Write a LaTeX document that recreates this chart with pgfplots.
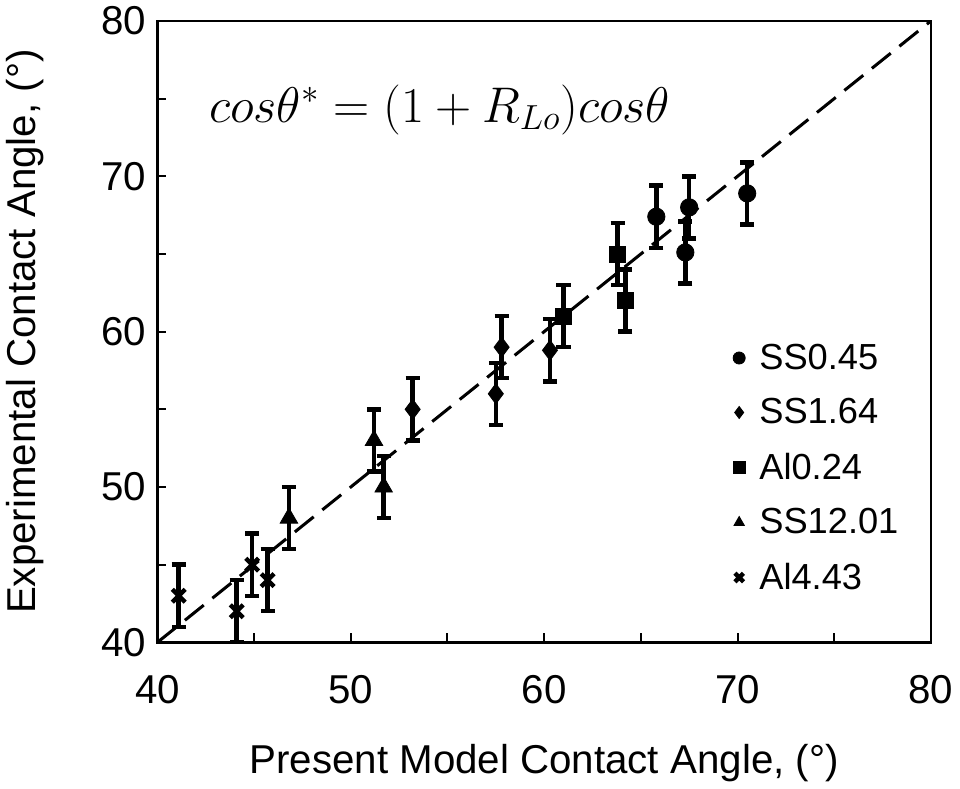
\documentclass[border=0pt]{standalone}
\usepackage{fontspec}
\setmainfont{Liberation Sans}
\usepackage{pgfplots}
\pgfplotsset{compat=1.18}

\begin{document}
\begin{tikzpicture}
\begin{axis}[
    scale only axis,
    width=384pt, height=308.5pt,
    xmin=40, xmax=80, ymin=40, ymax=80,
    xtick={40,50,...,80}, ytick={40,50,...,80},
    minor xtick={45,55,65,75}, minor ytick={45,55,65,75},
    tick align=inside,
    major tick length=4.5pt, minor tick length=4.5pt,
    tick style={black, line width=1pt},
    axis line style={line width=1.2pt},
    xtick pos=bottom, ytick pos=left,
    /pgf/number format/assume math mode=true,
    tick label style={font=\fontsize{20}{22}\selectfont},
    xticklabel style={yshift=-13pt},
    yticklabel style={xshift=-2pt},
    xlabel={Present Model Contact Angle, (°)},
    ylabel={Experimental Contact Angle, (°)},
    every axis x label/.style={at={(rel axis cs:0.5,-0.1945)}, anchor=center,
        font=\fontsize{20}{22}\selectfont},
    every axis y label/.style={at={(rel axis cs:-0.1706,0.5)}, anchor=center,
        rotate=90, font=\fontsize{20}{22}\selectfont},
    legend style={draw=none, fill=none, at={(0.736,0.494)}, anchor=north west,
        font=\fontsize{18}{20}\selectfont, row sep=9pt,
        legend cell align=left},
    legend image post style={mark size=3pt},
    cycle list={{black, mark options={fill=black, solid}}},
    error bars/y dir=both, error bars/y explicit,
    error bars/error bar style={line width=2.2pt, black},
    error bars/error mark options={rotate=90, line width=2.2pt, mark size=3.5pt, black},
]
\addplot[forget plot, mark=none, sharp plot, black, line width=1.5pt,
    dash pattern=on 12pt off 5.5pt] coordinates {(40,40) (80,80)};

% SS0.45
\addplot+[only marks, mark=*, mark size=4.3pt] coordinates {
    (65.8,67.4) +- (0,2)
    (67.5,68.0) +- (0,2)
    (67.3,65.1) +- (0,2)
    (70.5,68.9) +- (0,2)
};
% SS1.64
\addplot+[only marks, mark=diamond*, mark size=5pt] coordinates {
    (53.2,55.0) +- (0,2)
    (57.5,56.0) +- (0,2)
    (57.8,59.0) +- (0,2)
    (60.3,58.8) +- (0,2)
};
% Al0.24
\addplot+[only marks, mark=square*, mark size=4pt] coordinates {
    (61.0,61.0) +- (0,2)
    (63.8,65.0) +- (0,2)
    (64.2,62.0) +- (0,2)
};
% SS12.01
\addplot+[only marks, mark=triangle*, mark size=5pt] coordinates {
    (46.8,48.0) +- (0,2)
    (51.2,53.0) +- (0,2)
    (51.7,50.0) +- (0,2)
};
% Al4.43
\addplot+[only marks, mark=x, mark size=4.5pt, mark options={line width=2.2pt}] coordinates {
    (41.1,43.0) +- (0,2)
    (44.1,42.0) +- (0,2)
    (44.9,45.0) +- (0,2)
    (45.7,44.0) +- (0,2)
};
\legend{\hspace{5pt}SS0.45, \hspace{5pt}SS1.64, \hspace{5pt}Al0.24,
    \hspace{5pt}SS12.01, \hspace{5pt}Al4.43}

\node[anchor=west, font=\fontsize{24}{26}\selectfont] at (axis cs:42.3,74.3)
    {$cos\theta^{*}=(1+R_{Lo})cos\theta$};
\end{axis}
\end{tikzpicture}
\end{document}
